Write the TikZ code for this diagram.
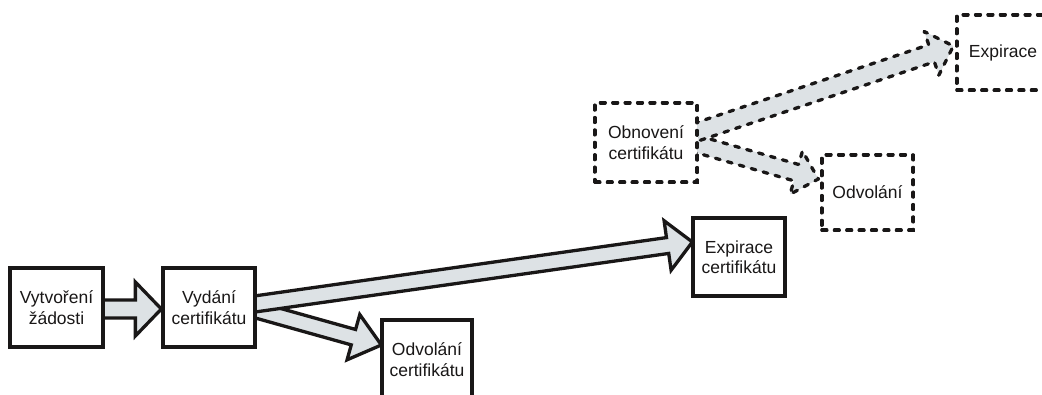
\documentclass[tikz,border=0pt]{standalone}
\usepackage{fontspec}
\setmainfont{Liberation Sans}
\usetikzlibrary{calc}
\definecolor{arrowgray}{RGB}{221,226,229}
\definecolor{ink}{RGB}{25,23,23}
\tikzset{
  stepbox/.style={draw=ink, line width=3.3pt, fill=white, align=center,
    inner sep=2pt, text=ink, font=\fontsize{17.5}{20.5}\selectfont, line join=miter},
  dashbox/.style={stepbox, line cap=round, dash pattern=on 4.8pt off 7.6pt},
  solidarrow/.style={draw=ink, line width=3.3pt, line join=miter},
  dasharrow/.style={draw=ink, line width=3.3pt, line cap=round, line join=round, dash pattern=on 4.8pt off 7.6pt},
}
\newcommand{\barrow}[6]{%
  \coordinate (bas) at #2;
  \coordinate (bae) at #3;
  \coordinate (bah) at ($(bae)!#6!(bas)$);
  \coordinate (ba1) at ($(bas)!#4!90:(bae)$);
  \coordinate (ba2) at ($(bah)!#4!-90:(bas)$);
  \coordinate (ba3) at ($(bah)!#5!-90:(bas)$);
  \coordinate (ba4) at ($(bah)!#5!90:(bas)$);
  \coordinate (ba5) at ($(bah)!#4!90:(bas)$);
  \coordinate (ba6) at ($(bas)!#4!-90:(bae)$);
  \fill[arrowgray] (ba1)--(ba2)--(ba3)--(bae)--(ba4)--(ba5)--(ba6)--cycle;
  \draw[#1] (ba1)--(ba2)--(ba3)--(bae)--(ba4)--(ba5)--(ba6);
}
\begin{document}
\begin{tikzpicture}[x=1pt,y=-1pt]
\useasboundingbox (0,0) rectangle (1042,394);
\fill[white] (0,0) rectangle (1042,394);
\clip (0,0) rectangle (1042,394);
% nodes
\node[stepbox, minimum width=93pt, minimum height=79pt] (vyt) at (56.5,307.5) {Vytvoření\\žádosti};
\node[stepbox, minimum width=92pt, minimum height=79pt] (vyd) at (209,307.5) {Vydání\\certifikátu};
\node[stepbox, minimum width=90pt, minimum height=79pt] (odvc) at (427,359.5) {Odvolání\\certifikátu};
\node[stepbox, minimum width=92pt, minimum height=78pt] (expc) at (739,257) {Expirace\\certifikátu};
\node[dashbox, minimum width=102pt, minimum height=79pt] (obn) at (646,142.5) {Obnovení\\certifikátu};
\node[dashbox, minimum width=91pt, minimum height=75pt] (odv) at (867.5,192.5) {Odvolání};
\node[dashbox, minimum width=92pt, minimum height=75pt] (exp) at (1003,52.5) {Expirace};
% arrows
\barrow{solidarrow}{($(vyt.east)+(-2,1.5)$)}{($(vyd.west)+(0,1.5)$)}{9pt}{27pt}{26pt}
\barrow{solidarrow}{($(vyd.east)+(-2,2)$)}{($(odvc.west)+(1,-14.5)$)}{8pt}{23.5pt}{29pt}
\barrow{solidarrow}{($(vyd.east)+(-2,-3.5)$)}{($(expc.west)+(1,-15)$)}{8pt}{25pt}{25pt}
\barrow{dasharrow}{($(obn.east)+(-2,1.5)$)}{($(odv.west)+(-2,-13.5)$)}{8.5pt}{22.5pt}{23pt}
\barrow{dasharrow}{($(obn.east)+(-2,-10.5)$)}{($(exp.west)+(-2,-6.5)$)}{9pt}{23pt}{23pt}
% redraw boxes on top
\node[stepbox, minimum width=93pt, minimum height=79pt] at (vyt) {Vytvoření\\žádosti};
\node[stepbox, minimum width=92pt, minimum height=79pt] at (vyd) {Vydání\\certifikátu};
\node[stepbox, minimum width=90pt, minimum height=79pt] at (odvc) {Odvolání\\certifikátu};
\node[stepbox, minimum width=92pt, minimum height=78pt] at (expc) {Expirace\\certifikátu};
\node[dashbox, minimum width=102pt, minimum height=79pt] at (obn) {Obnovení\\certifikátu};
\node[dashbox, minimum width=91pt, minimum height=75pt] at (odv) {Odvolání};
\node[dashbox, minimum width=92pt, minimum height=75pt] at (exp) {Expirace};
\end{tikzpicture}
\end{document}
